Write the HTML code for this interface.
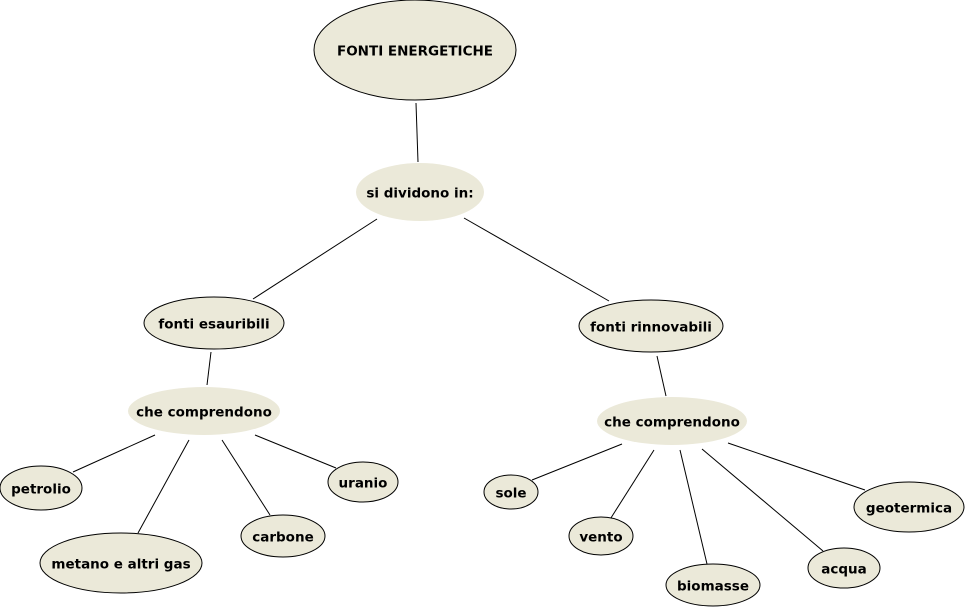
<!DOCTYPE html>
<html><head><meta charset="utf-8"><style>
html,body{margin:0;padding:0;background:#fff;}
svg text{font-family:"DejaVu Sans","Liberation Sans",sans-serif;font-weight:bold;font-size:13.5px;fill:#000;text-anchor:middle;dominant-baseline:central;}
</style></head><body>
<svg width="965" height="608" viewBox="0 0 965 608" xmlns="http://www.w3.org/2000/svg">
<g stroke="#000" stroke-width="1">
<line x1="416" y1="103" x2="418" y2="162"/>
<line x1="377" y1="219" x2="253" y2="299"/>
<line x1="464" y1="218" x2="609" y2="301"/>
<line x1="211" y1="352" x2="207" y2="385"/>
<line x1="657" y1="356" x2="666" y2="396"/>
<line x1="155" y1="435" x2="73" y2="472"/>
<line x1="189" y1="440" x2="138" y2="533"/>
<line x1="222" y1="440" x2="270" y2="515"/>
<line x1="255" y1="435" x2="336" y2="468"/>
<line x1="622" y1="444" x2="532" y2="480"/>
<line x1="654" y1="450" x2="609" y2="521"/>
<line x1="680" y1="450" x2="707" y2="564"/>
<line x1="702" y1="449" x2="823" y2="551"/>
<line x1="728" y1="443" x2="865" y2="490"/>
</g>
<g fill="#ebe9d9" stroke="#000" stroke-width="1">
<ellipse cx="415" cy="50" rx="101" ry="50"/>
<ellipse cx="420" cy="192" rx="64" ry="29" stroke="none"/>
<ellipse cx="214" cy="323" rx="70" ry="26"/>
<ellipse cx="651" cy="326" rx="72" ry="26"/>
<ellipse cx="204" cy="411" rx="76" ry="24" stroke="none"/>
<ellipse cx="672" cy="421" rx="75" ry="24" stroke="none"/>
<ellipse cx="41" cy="488" rx="41" ry="22"/>
<ellipse cx="121" cy="563" rx="81" ry="30"/>
<ellipse cx="283" cy="536" rx="42" ry="21"/>
<ellipse cx="363" cy="482" rx="35" ry="20"/>
<ellipse cx="511" cy="492" rx="27" ry="17"/>
<ellipse cx="601" cy="536" rx="32" ry="19"/>
<ellipse cx="713" cy="585" rx="47" ry="21"/>
<ellipse cx="844" cy="568" rx="36" ry="20"/>
<ellipse cx="909" cy="507" rx="55" ry="25"/>
</g>
<g transform="translate(0,1.5)">
<text x="415" y="50">FONTI ENERGETICHE</text>
<text x="420" y="192">si dividono in:</text>
<text x="214" y="323">fonti esauribili</text>
<text x="651" y="326">fonti rinnovabili</text>
<text x="204" y="411">che comprendono</text>
<text x="672" y="421">che comprendono</text>
<text x="41" y="488">petrolio</text>
<text x="121" y="563">metano e altri gas</text>
<text x="283" y="536">carbone</text>
<text x="363" y="482">uranio</text>
<text x="511" y="492">sole</text>
<text x="601" y="536">vento</text>
<text x="713" y="585">biomasse</text>
<text x="844" y="568">acqua</text>
<text x="909" y="507">geotermica</text>
</g>
</svg>
</body></html>
